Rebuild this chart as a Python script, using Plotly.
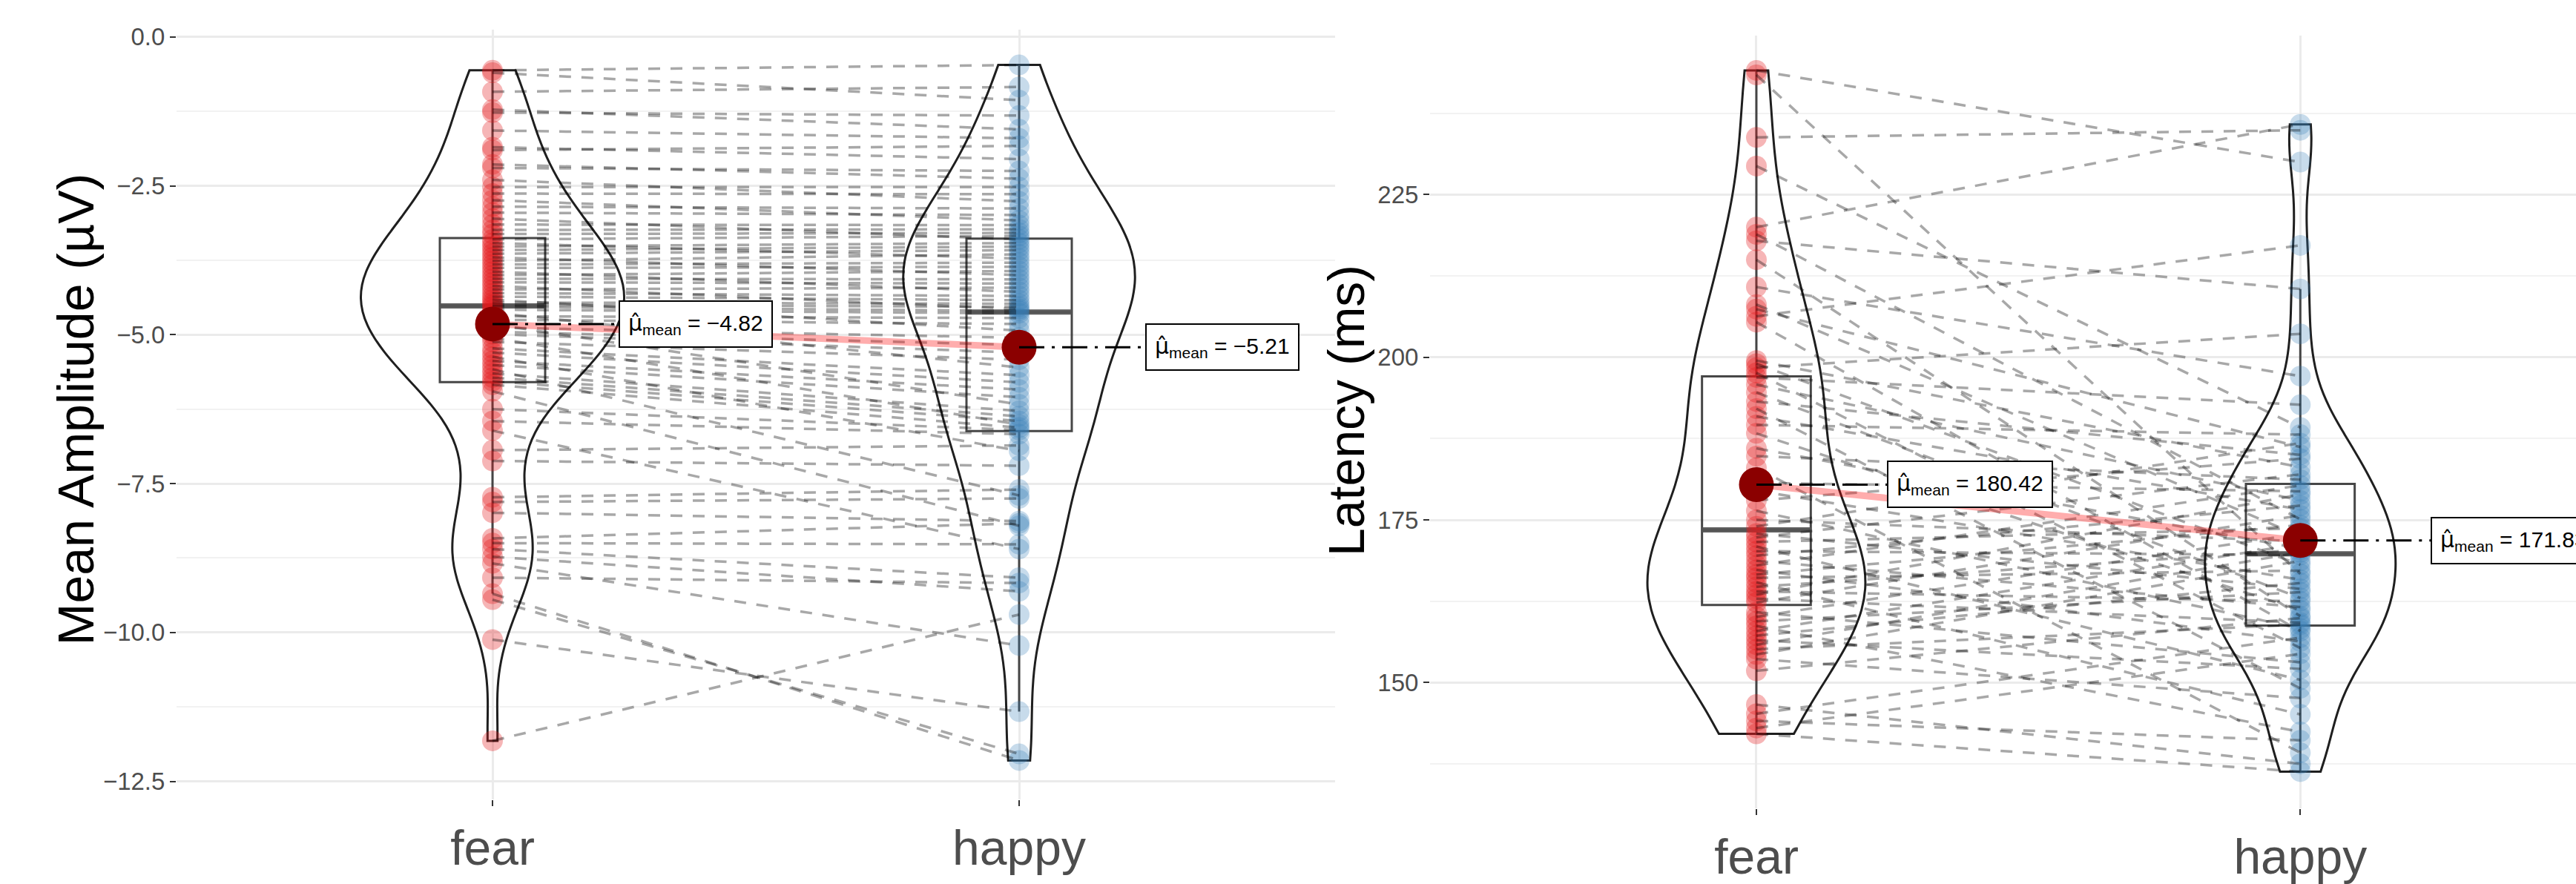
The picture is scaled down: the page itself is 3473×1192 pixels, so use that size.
import numpy as np
import plotly.graph_objects as go

# ---- data -----------------------------------------------------------------
conditions = ["fear", "happy"]

# Mean amplitude (µV), one value per participant, paired by position
amp_fear = [
    -0.56, -0.60, -0.92, -1.22, -1.27, -1.57, -1.85, -1.90, -2.14, -2.20,
    -2.40, -2.52, -2.63, -2.74, -2.85, -2.95, -3.05, -3.15, -3.24, -3.31,
    -3.40, -3.46, -3.52, -3.58, -3.64, -3.70, -3.76, -3.82, -3.88, -3.94,
    -4.00, -4.06, -4.12, -4.18, -4.24, -4.30, -4.36, -4.41, -4.46, -4.50,
    -4.53, -4.58, -4.63, -4.69, -4.75, -4.82, -4.88, -4.95, -4.99, -5.05,
    -5.12, -5.23, -5.30, -5.37, -5.44, -5.51, -5.58, -5.65, -5.72, -5.78,
    -5.84, -5.95, -6.25, -6.45, -6.61, -6.94, -7.12, -7.73, -7.81, -7.99,
    -8.42, -8.50, -8.60, -8.73, -8.84, -9.08, -9.35, -9.45, -10.12, -11.82,
]
amp_happy = [
    -0.47, -1.06, -0.84, -1.55, -1.32, -1.70, -2.05, -1.83, -2.38, -2.25,
    -2.76, -2.52, -2.64, -3.08, -2.88, -2.99, -3.40, -3.16, -3.23, -3.29,
    -3.34, -3.72, -3.46, -3.52, -3.58, -4.00, -3.65, -3.79, -3.86, -4.28,
    -3.93, -4.07, -4.14, -4.57, -4.21, -4.35, -4.42, -4.93, -4.48, -4.53,
    -4.60, -4.64, -5.55, -4.72, -4.82, -6.17, -5.05, -5.17, -5.30, -6.51,
    -5.42, -5.68, -5.80, -6.95, -5.92, -6.05, -7.70, -6.28, -6.37, -6.45,
    -6.56, -8.21, -6.60, -6.67, -8.60, -6.86, -7.20, -7.60, -7.75, -8.13,
    -8.17, -8.52, -9.08, -9.31, -10.22, -9.17, -12.15, -12.04, -11.33, -9.70,
]

# Latency (ms), one value per participant, paired by position
lat_fear = [
    244.1, 243.4, 233.8, 229.4, 220.0, 218.9, 217.9, 215.0, 210.8, 208.1,
    207.4, 206.3, 205.4, 199.5, 199.0, 198.4, 197.6, 196.9, 195.8, 194.6,
    193.2, 192.1, 190.9, 189.6, 188.3, 186.0, 184.8, 183.0, 180.7, 179.5,
    178.0, 176.4, 175.0, 174.0, 172.9, 172.3, 171.6, 170.9, 170.2, 169.5,
    168.7, 168.0, 167.3, 166.6, 166.1, 165.4, 164.7, 164.0, 163.5, 162.9,
    162.3, 160.8, 160.1, 159.4, 158.7, 157.9, 157.2, 156.5, 155.8, 155.1,
    154.3, 153.6, 151.8, 146.6, 145.2, 144.1, 143.0, 142.1,
]
lat_happy = [
    230.0, 166.7, 234.9, 189.2, 235.8, 175.1, 210.5, 160.2, 197.1, 172.5,
    186.2, 217.2, 157.9, 183.1, 168.1, 203.6, 155.3, 192.7, 178.0, 163.0,
    185.0, 149.1, 176.6, 188.1, 161.1, 170.6, 181.2, 139.2, 179.4, 165.8,
    184.4, 158.3, 171.7, 186.8, 164.4, 182.0, 173.7, 150.4, 169.6, 177.2,
    161.6, 180.3, 156.3, 174.2, 167.2, 145.1, 170.4, 162.5, 178.9, 159.2,
    175.7, 153.1, 172.9, 163.9, 142.4, 171.3, 165.3, 152.1, 170.0, 158.9,
    168.7, 147.6, 159.9, 137.5, 156.9, 141.1, 154.4, 136.3,
]

# Group means shown on the chart
amp_means = [-4.82, -5.21]
lat_means = [180.42, 171.83]

amp_tickvals = [0.0, -2.5, -5.0, -7.5, -10.0, -12.5]
amp_ticktext = ["0.0", "\u22122.5", "\u22125.0", "\u22127.5", "\u221210.0", "\u221212.5"]
amp_minor = [-1.25, -3.75, -6.25, -8.75, -11.25]
lat_tickvals = [150, 175, 200, 225]
lat_ticktext = ["150", "175", "200", "225"]
lat_minor = [137.5, 162.5, 187.5, 212.5, 237.5]

# ---- styling ----------------------------------------------------------------
FONT = "Liberation Sans, Arial, Helvetica, sans-serif"
W, H = 3473, 1192
FEAR_PT = "rgba(228,26,28,0.32)"
HAPPY_PT = "rgba(55,126,184,0.28)"
PAIR_LINE = "rgba(0,0,0,0.34)"
MEAN_LINE = "rgba(255,0,0,0.32)"
MEAN_PT = "#8B0000"
POS = [1, 2]
LABEL_OFFSET = 0.24
MU_HAT = '<span style="font-family:DejaVu Sans">\u03bc\u0302</span>'


def bw_nrd0(v):
    """Silverman's rule of thumb as used by R's density()."""
    v = np.asarray(v, dtype=float)
    sd = v.std(ddof=1)
    q75, q25 = np.percentile(v, [75, 25])
    lo = min(sd, (q75 - q25) / 1.34)
    return 0.9 * lo * len(v) ** -0.2


def box_stats(v):
    v = np.sort(np.asarray(v, dtype=float))
    q1, med, q3 = np.percentile(v, [25, 50, 75])
    iqr = q3 - q1
    lo = v[v >= q1 - 1.5 * iqr].min()
    hi = v[v <= q3 + 1.5 * iqr].max()
    return q1, med, q3, lo, hi


def fmt_mean(m):
    return f"{m:.2f}".replace("-", "\u2212")


fig = go.Figure()
annotations = []


def add_panel(fear, happy, means, xa, ya, group, vwidths):
    groups = [fear, happy]
    # violins (trimmed to the data range)
    for p, vals, vw in zip(POS, groups, vwidths):
        fig.add_trace(go.Violin(
            x=[p] * len(vals), y=vals, xaxis=xa, yaxis=ya,
            width=vw, scalegroup=f"{group}{p}", scalemode="width",
            spanmode="hard", bandwidth=bw_nrd0(vals), points=False,
            line=dict(color="#1f1f1f", width=3),
            fillcolor="rgba(0,0,0,0)", showlegend=False, hoverinfo="skip",
        ))
    # boxplots
    for p, vals in zip(POS, groups):
        q1, med, q3, lo, hi = box_stats(vals)
        fig.add_trace(go.Box(
            x=[p], q1=[q1], median=[med], q3=[q3],
            lowerfence=[lo], upperfence=[hi], width=0.2,
            boxpoints=False, whiskerwidth=0,
            line=dict(color="rgba(51,51,51,0.9)", width=3),
            fillcolor="rgba(0,0,0,0)", xaxis=xa, yaxis=ya,
            showlegend=False, hoverinfo="skip",
        ))
        fig.add_trace(go.Scatter(
            x=[p - 0.1, p + 0.1], y=[med, med], mode="lines",
            line=dict(color="rgba(85,85,85,0.95)", width=7),
            xaxis=xa, yaxis=ya, showlegend=False, hoverinfo="skip",
        ))
    # individual observations
    for p, vals, col in zip(POS, groups, [FEAR_PT, HAPPY_PT]):
        fig.add_trace(go.Scatter(
            x=[p] * len(vals), y=vals, mode="markers",
            marker=dict(size=28, color=col, line=dict(width=0)),
            xaxis=xa, yaxis=ya, showlegend=False, hoverinfo="skip",
        ))
    # paired observations
    for a, b in zip(fear, happy):
        fig.add_trace(go.Scatter(
            x=POS, y=[a, b], mode="lines",
            line=dict(color=PAIR_LINE, width=3.5, dash="16px,14px"),
            xaxis=xa, yaxis=ya, showlegend=False, hoverinfo="skip",
        ))
    # group means
    fig.add_trace(go.Scatter(
        x=POS, y=means, mode="lines",
        line=dict(color=MEAN_LINE, width=9),
        xaxis=xa, yaxis=ya, showlegend=False, hoverinfo="skip",
    ))
    fig.add_trace(go.Scatter(
        x=POS, y=means, mode="markers",
        marker=dict(size=47, color=MEAN_PT, line=dict(width=0)),
        xaxis=xa, yaxis=ya, showlegend=False, hoverinfo="skip",
    ))
    for p, m in zip(POS, means):
        fig.add_trace(go.Scatter(
            x=[p, p + LABEL_OFFSET], y=[m, m], mode="lines",
            line=dict(color="black", width=3, dash="34px,10px,4px,10px"),
            xaxis=xa, yaxis=ya, showlegend=False, hoverinfo="skip",
        ))
        annotations.append(dict(
            x=p + LABEL_OFFSET, y=m, xref=xa, yref=ya,
            xanchor="left", yanchor="middle", showarrow=False,
            text=MU_HAT + "<sub>mean</sub> = " + fmt_mean(m),
            font=dict(family=FONT, size=30, color="black"),
            bgcolor="white", bordercolor="black", borderwidth=2, borderpad=11,
        ))


add_panel(amp_fear, amp_happy, amp_means, "x", "y", "amp", [0.5, 0.44])
add_panel(lat_fear, lat_happy, lat_means, "x2", "y2", "lat", [0.4, 0.35])


def px_x(v):
    return v / W


def px_y(v):
    return 1 - v / H


common = dict(
    showline=False, zeroline=False, ticks="outside", ticklen=8,
    tickwidth=2, tickcolor="#333333", gridcolor="#EBEBEB", gridwidth=3,
)
xcommon = dict(
    tickvals=POS, ticktext=conditions,
    tickfont=dict(family=FONT, size=66, color="#4D4D4D"), **common,
)
ycommon = dict(tickfont=dict(family=FONT, size=33, color="#4D4D4D"), **common)
minor_style = dict(showgrid=True, gridcolor="#F2F2F2", gridwidth=2, ticks="")

annotations.append(dict(
    x=px_x(102), y=px_y(572), xref="paper", yref="paper", textangle=-90,
    text="Mean Amplitude (\u00b5V)", showarrow=False,
    font=dict(family=FONT, size=68, color="black"),
    xanchor="center", yanchor="middle",
))
annotations.append(dict(
    x=px_x(1815), y=px_y(574), xref="paper", yref="paper", textangle=-90,
    text="Latency (ms)", showarrow=False,
    font=dict(family=FONT, size=68, color="black"),
    xanchor="center", yanchor="middle",
))

fig.update_layout(
    width=W, height=H,
    margin=dict(l=0, r=0, t=0, b=0),
    paper_bgcolor="white", plot_bgcolor="white",
    violinmode="overlay", boxmode="overlay",
    showlegend=False,
    font=dict(family=FONT),
    xaxis=dict(domain=[px_x(238), px_x(1800)], range=[0.4, 2.6],
               anchor="y", **xcommon),
    yaxis=dict(domain=[px_y(1124.3), px_y(33.9)], range=[-12.8, 0.12],
               anchor="x", tickvals=amp_tickvals, ticktext=amp_ticktext,
               minor=dict(tickvals=amp_minor, **minor_style), **ycommon),
    xaxis2=dict(domain=[px_x(1928), 1.0], range=[0.4, 1 + (W - 2368) / 733.3],
                anchor="y2", **xcommon),
    yaxis2=dict(domain=[px_y(1136.9), px_y(41.6)], range=[130.7, 249.5],
                anchor="x2", tickvals=lat_tickvals, ticktext=lat_ticktext,
                minor=dict(tickvals=lat_minor, **minor_style), **ycommon),
    annotations=annotations,
)

fig.write_html("out.html")
